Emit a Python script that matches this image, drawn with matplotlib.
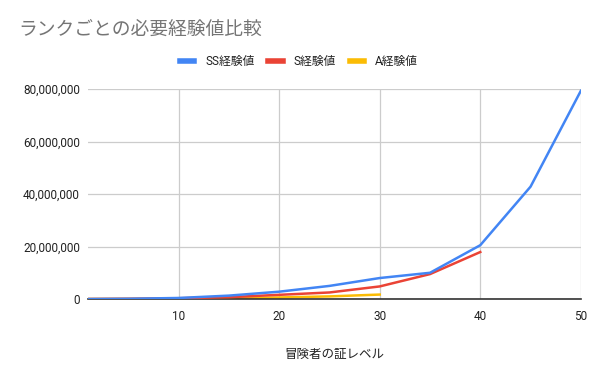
import matplotlib
matplotlib.use("Agg")
import matplotlib.pyplot as plt
from matplotlib.ticker import FuncFormatter

plt.rcParams['font.family'] = ['Roboto', 'Noto Sans CJK JP', 'DejaVu Sans']

# データ (画像から読み取った推定値)
levels = [1, 5, 10, 15, 20, 25, 30, 35, 40, 45, 50]
ss_exp = [0, 100000, 400000, 1300000, 2800000, 5000000, 8000000, 10000000, 20500000, 42800000, 79300000]
s_exp = [0, 80000, 300000, 700000, 1600000, 2500000, 4800000, 9500000, 17900000]
a_exp = [0, 30000, 100000, 300000, 600000, 1000000, 1700000]

fig = plt.figure(figsize=(6, 3.71), dpi=100)
ax = fig.add_axes([0.147, 0.194, 0.821, 0.566])

ax.plot(levels, ss_exp, color='#4285F4', lw=1.8, label='SS経験値', zorder=4)
ax.plot(levels[:len(s_exp)], s_exp, color='#EA4335', lw=1.8, label='S経験値', zorder=3)
ax.plot(levels[:len(a_exp)], a_exp, color='#FBBC04', lw=1.8, label='A経験値', zorder=2)

ax.set_xlim(1, 50)
ax.set_ylim(0, 80000000)
ax.set_xticks([10, 20, 30, 40, 50])
ax.set_yticks([0, 20000000, 40000000, 60000000, 80000000])
ax.yaxis.set_major_formatter(FuncFormatter(lambda v, p: f'{int(v):,}'))
ax.grid(True, color='#cccccc', lw=0.9)
ax.set_axisbelow(True)
for side in ['top', 'right', 'left']:
    ax.spines[side].set_visible(False)
ax.spines['bottom'].set_color('#333333')
ax.spines['bottom'].set_linewidth(1.2)
ax.tick_params(length=0, labelsize=8.5, colors='#222222', pad=6)
ax.tick_params(axis='x', pad=8)

ax.set_xlabel('冒険者の証レベル', fontsize=9, color='#222222', labelpad=18)

fig.text(0.03, 0.92, 'ランクごとの必要経験値比較', fontsize=13.5, color='#757575', va='center')
fig.legend(loc='center', bbox_to_anchor=(0.498, 0.835), ncol=3, frameon=False,
           fontsize=8.5, handlelength=1.2, handleheight=0.5, columnspacing=1.2,
           handletextpad=0.9, labelcolor='#222222')
leg = fig.legends[0]
for h in leg.legend_handles:
    h.set_linewidth(4)

fig.savefig('out.png', dpi=100)
